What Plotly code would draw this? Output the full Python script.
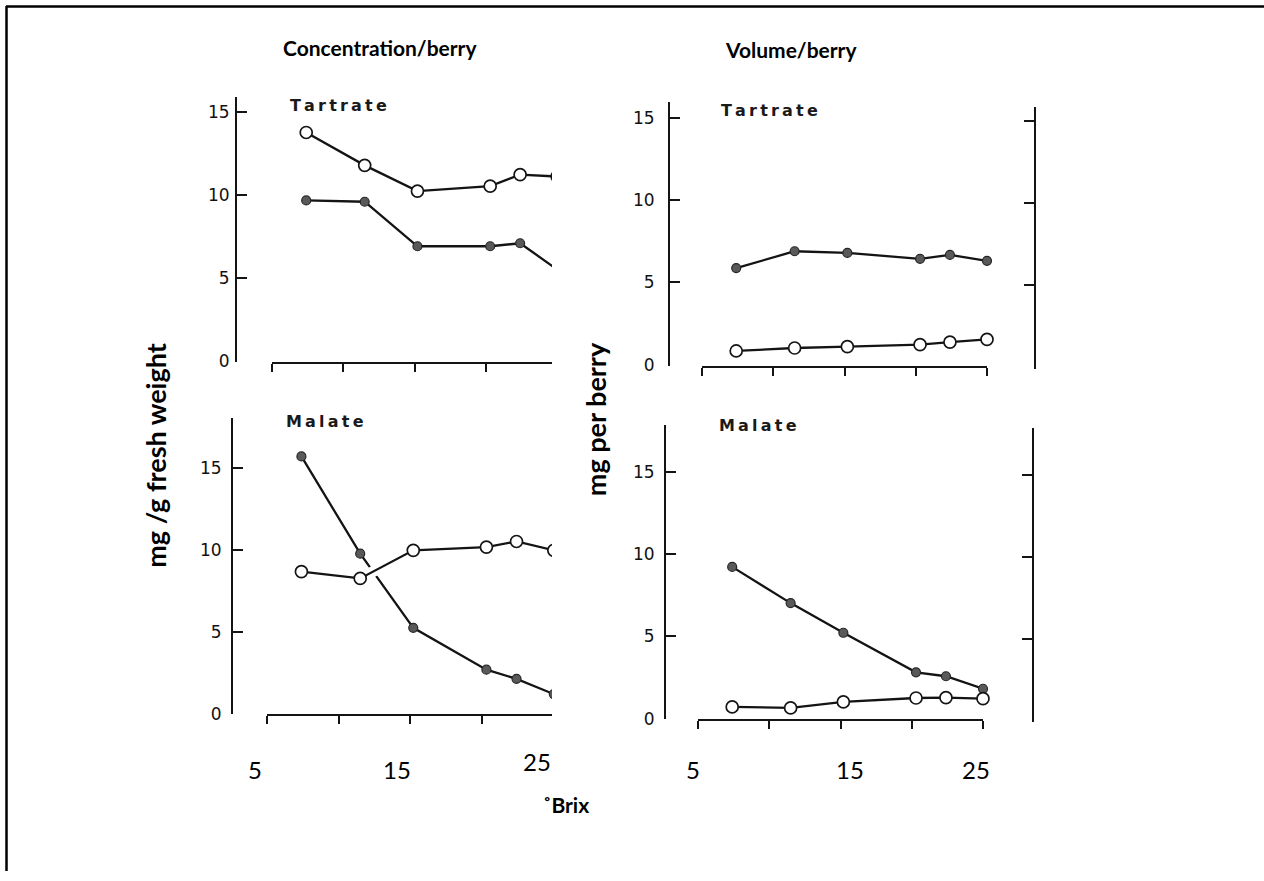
import plotly.graph_objects as go

W, H = 1264, 881

# Sugar level of the sampled berries (degrees Brix)
brix = [7.4, 11.5, 15.2, 20.3, 22.4, 25.0]

# Concentration (mg / g fresh weight)
conc_tartrate_open = [13.75, 11.77, 10.22, 10.52, 11.21, 11.1]
conc_tartrate_solid = [9.66, 9.58, 6.90, 6.90, 7.08, 5.5]
conc_malate_solid = [15.68, 9.76, 5.24, 2.69, 2.13, 1.2]
conc_malate_open = [8.66, 8.25, 9.96, 10.16, 10.5, 9.96]

# Amount per berry (mg per berry)
vol_tartrate_solid = [5.87, 6.89, 6.79, 6.43, 6.67, 6.31]
vol_tartrate_open = [0.84, 1.02, 1.10, 1.22, 1.38, 1.54]
vol_malate_solid = [9.22, 7.02, 5.22, 2.82, 2.58, 1.82]
vol_malate_open = [0.72, 0.66, 1.02, 1.26, 1.28, 1.22]

x_ticks = [5, 10, 15, 20, 25]
y_ticks = [0, 5, 10, 15]
brix_labels = ["5", "15", "25"]
panel_names = ["Tartrate", "Malate"]
column_titles = ["Concentration/berry", "Volume/berry"]
y_titles = ["mg /g fresh weight", "mg per berry"]
x_title = "˚Brix"

INK = "#141414"
SCAN_FONT = "DejaVu Sans"
DOC_FONT = "Lato"


def fx(p):
    return p / W


def fy(p):
    return 1 - p / H


def spaced(word):
    return "\u2009".join(word)


fig = go.Figure()

# geometry of each panel in pixels: x-axis span, x-axis line height, pixel of x=5,
# px per Brix unit, y-axis line x, y span, pixel of y=0, px per unit, label standoff
panels = {
    "": dict(x0=272, x1=552, xline=367, x5=272, xs=71.3 / 5, yline=236,
             ytop=98, ybot=366, y0=365, ys=16.8, stand=2, clip=True),
    "2": dict(x0=702, x1=987, xline=371, x5=702, xs=71.25 / 5, yline=669,
              ytop=103, ybot=370, y0=369, ys=16.67, stand=10, clip=False),
    "3": dict(x0=267, x1=552, xline=723, x5=267, xs=71.7 / 5, yline=232,
              ytop=423, ybot=722, y0=722, ys=16.6, stand=6, clip=True),
    "4": dict(x0=698, x1=983, xline=728, x5=698, xs=71.25 / 5, yline=665,
              ytop=430, ybot=727, y0=727, ys=16.66, stand=6, clip=False),
}

series = {
    "": (conc_tartrate_solid, conc_tartrate_open),
    "2": (vol_tartrate_solid, vol_tartrate_open),
    "3": (conc_malate_solid, conc_malate_open),
    "4": (vol_malate_solid, vol_malate_open),
}

layout_axes = {}
for key, g in panels.items():
    xa = "xaxis" + key
    ya = "yaxis" + key
    layout_axes[xa] = dict(
        domain=[fx(g["x0"]), fx(g["x1"])],
        range=[5 + (g["x0"] - g["x5"]) / g["xs"], 5 + (g["x1"] - g["x5"]) / g["xs"]],
        anchor="free", position=fy(g["xline"]),
        showline=True, linecolor=INK, linewidth=2,
        tickmode="array", tickvals=x_ticks, ticks="outside", ticklen=8,
        tickwidth=2, tickcolor=INK, showticklabels=False,
        showgrid=False, zeroline=False, fixedrange=True,
    )
    layout_axes[ya] = dict(
        domain=[fy(g["ybot"]), fy(g["ytop"])],
        range=[(g["y0"] - g["ybot"]) / g["ys"], (g["y0"] - g["ytop"]) / g["ys"]],
        anchor="free", position=fx(g["yline"]),
        showline=True, linecolor=INK, linewidth=2,
        tickmode="array", tickvals=y_ticks, ticks="inside", ticklen=10,
        tickwidth=2, tickcolor=INK, ticklabelstandoff=g["stand"],
        tickfont=dict(family=SCAN_FONT, size=17, color="#111"),
        showgrid=False, zeroline=False, fixedrange=True,
    )

    solid, hollow = series[key]
    xref = "x" + key
    yref = "y" + key
    fig.add_trace(go.Scatter(
        x=brix, y=solid, xaxis=xref, yaxis=yref, mode="lines+markers",
        line=dict(color=INK, width=2.3),
        marker=dict(size=9, color="#595959", line=dict(color="#262626", width=1.2)),
        cliponaxis=g["clip"], showlegend=False, hoverinfo="skip",
    ))
    if key == "3":
        # white gap where the open-circle line crosses the solid one
        fig.add_trace(go.Scatter(
            x=brix, y=hollow, xaxis=xref, yaxis=yref, mode="lines",
            line=dict(color="white", width=11),
            showlegend=False, hoverinfo="skip",
        ))
    fig.add_trace(go.Scatter(
        x=brix, y=hollow, xaxis=xref, yaxis=yref, mode="lines+markers",
        line=dict(color=INK, width=2.3),
        marker=dict(size=12, color="white", line=dict(color=INK, width=1.7)),
        cliponaxis=g["clip"], showlegend=False, hoverinfo="skip",
    ))

# right-hand frame axes of the per-berry panels
right_axes = {
    "5": dict(xline=1035, ytop=108, ybot=373, y0=372, ys=16.67, left=702),
    "6": dict(xline=1033, ytop=433, ybot=730, y0=730, ys=16.67, left=698),
}
for key, g in right_axes.items():
    layout_axes["xaxis" + key] = dict(
        domain=[fx(g["left"]), fx(g["xline"])], range=[0, 1],
        anchor="y" + key, visible=False, fixedrange=True,
    )
    layout_axes["yaxis" + key] = dict(
        domain=[fy(g["ybot"]), fy(g["ytop"])],
        range=[(g["y0"] - g["ybot"]) / g["ys"], (g["y0"] - g["ytop"]) / g["ys"]],
        anchor="free", position=fx(g["xline"]), side="right",
        showline=True, linecolor=INK, linewidth=2,
        tickmode="array", tickvals=y_ticks, ticks="inside", ticklen=10,
        tickwidth=2, tickcolor=INK, showticklabels=False,
        showgrid=False, zeroline=False, fixedrange=True,
    )
    fig.add_trace(go.Scatter(
        x=[None], y=[None], xaxis="x" + key, yaxis="y" + key,
        mode="markers", showlegend=False, hoverinfo="skip",
    ))

annotations = []


def label(text, x, y, size, family, weight="normal", angle=0, color="#000"):
    annotations.append(dict(
        text=text, x=fx(x), y=fy(y), xref="paper", yref="paper",
        xanchor="center", yanchor="middle", showarrow=False, textangle=angle,
        font=dict(family=family, size=size, color=color, weight=weight),
    ))


# column headings
label(column_titles[0], 380, 48, 21, DOC_FONT, "bold")
label(column_titles[1], 791, 50, 21, DOC_FONT, "bold")

# panel names
label(spaced(panel_names[0]), 338, 107, 16, SCAN_FONT, "bold", color="#1a1a1a")
label(spaced(panel_names[0]), 769, 112, 16, SCAN_FONT, "bold", color="#1a1a1a")
label(spaced(panel_names[1]), 325, 426, 16, SCAN_FONT, "bold", color="#1a1a1a")
label(spaced(panel_names[1]), 758, 430, 16, SCAN_FONT, "bold", color="#1a1a1a")

# axis titles
label(y_titles[0], 156, 461, 27, DOC_FONT, "bold", angle=-90)
label(y_titles[1], 595, 424, 27, DOC_FONT, "bold", angle=-90)
label(x_title, 566, 814, 21, DOC_FONT, "bold")

# Brix scale labels under each column
for text, x, y in zip(brix_labels, [255, 397, 537], [778, 778, 770]):
    label(text, x, y, 24, DOC_FONT)
for text, x, y in zip(brix_labels, [693, 850, 976], [778, 778, 778]):
    label(text, x, y, 24, DOC_FONT)

shapes = [
    dict(type="line", xref="paper", yref="paper", x0=fx(6), x1=1.0,
         y0=fy(6.5), y1=fy(6.5), line=dict(color="black", width=2.5)),
    dict(type="line", xref="paper", yref="paper", x0=fx(6.5), x1=fx(6.5),
         y0=fy(6), y1=0.0, line=dict(color="black", width=2.5)),
]

fig.update_layout(
    width=W, height=H,
    margin=dict(l=0, r=0, t=0, b=0),
    paper_bgcolor="white", plot_bgcolor="rgba(0,0,0,0)",
    showlegend=False,
    annotations=annotations,
    shapes=shapes,
    **layout_axes,
)

fig.write_html("out.html")
